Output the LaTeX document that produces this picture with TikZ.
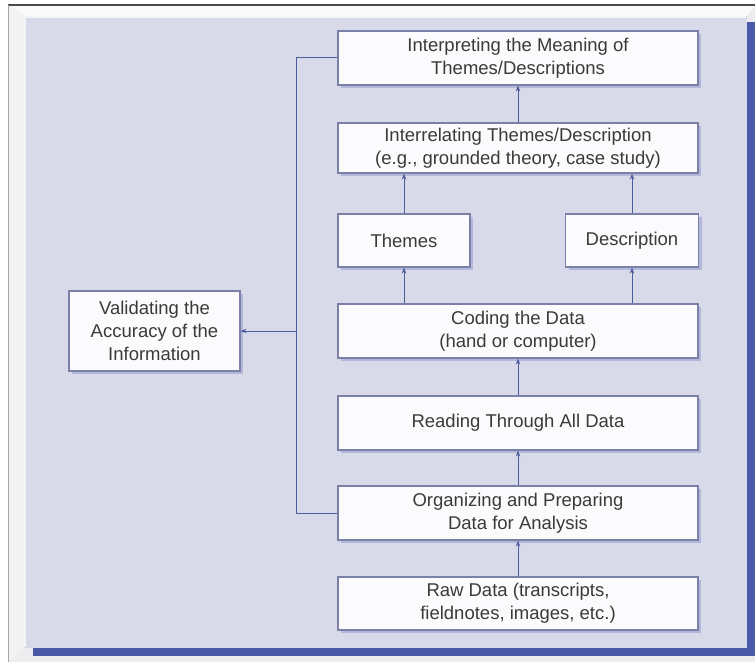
\documentclass[tikz,border=0pt]{standalone}
\usepackage{fontspec}
\setmainfont{Liberation Sans}
\usetikzlibrary{arrows.meta,shadows}
\definecolor{panel}{HTML}{D9DAE9}
\definecolor{framec}{HTML}{EDEDF0}
\definecolor{framedark}{HTML}{4A4A4A}
\definecolor{bluestrip}{HTML}{4B5AA8}
\definecolor{boxline}{HTML}{7A80A6}
\definecolor{boxfill}{HTML}{FBFBFE}
\definecolor{shadowc}{HTML}{B3B7DA}
\definecolor{linec}{HTML}{4D5C9C}
\definecolor{txt}{HTML}{3A3A3A}
\begin{document}
\begin{tikzpicture}[x=1bp,y=-1bp,
  box/.style={draw=boxline, line width=1.1bp, fill=boxfill, text=txt, align=center,
    font=\fontsize{18.5bp}{23bp}\selectfont, inner sep=0pt,
    drop shadow={shadow xshift=3bp, shadow yshift=-3bp, fill=shadowc, opacity=1}},
  conn/.style={draw=linec, line width=1bp},
  arr/.style={conn, -{Stealth[length=6bp,width=4.5bp]}}]
\useasboundingbox (0,0) rectangle (755,662);
\fill[white] (0,0) rectangle (755,662);
% outer frame
\fill[framec] (8,5) rectangle (755,662);
\fill[white!96!gray] (8,5) -- (755,5) -- (747,16) -- (24,16) -- cycle;
\fill[white!90!gray] (8,5) -- (24,16) -- (24,648) -- (8,662) -- cycle;
\draw[framedark, line width=1.6bp] (8,5) -- (755,5);
\draw[gray!70, line width=1bp] (8,5) -- (8,662);
% blue strips
\fill[bluestrip] (747,22) rectangle (755,656);
\fill[bluestrip] (33,648) rectangle (755,656);
% panel
\fill[panel] (24,16) rectangle (747,648);
\draw[white!70!panel, line width=1.5bp] (25,647) -- (25,17) -- (746,17);

% nodes
\node[box, minimum width=360bp, minimum height=54bp] (interp) at (518,58) {Interpreting the Meaning of\\Themes/Descriptions};
\node[box, minimum width=360bp, minimum height=50bp] (interrel) at (518,148) {Interrelating Themes/Description\\(e.g., grounded theory, case study)};
\node[box, minimum width=132bp, minimum height=53bp] (themes) at (404,240.5) {Themes};
\node[box, minimum width=133bp, minimum height=53bp] (desc) at (632,240.5) {Description};
\node[box, minimum width=360bp, minimum height=54bp] (coding) at (518,331) {Coding the Data\\(hand or computer)};
\node[box, minimum width=360bp, minimum height=54bp] (reading) at (518,423) {Reading Through All Data};
\node[box, minimum width=360bp, minimum height=54bp] (organ) at (518,513) {Organizing and Preparing\\Data for Analysis};
\node[box, minimum width=360bp, minimum height=53bp] (raw) at (518,603.5) {Raw Data (transcripts,\\fieldnotes, images, etc.)};
\node[box, minimum width=171bp, minimum height=80bp] (valid) at (154.5,331) {Validating the\\Accuracy of the\\Information};

% connectors
\draw[arr] (raw) -- (organ);
\draw[arr] (organ) -- (reading);
\draw[arr] (reading) -- (coding);
\draw[arr] (coding.north -| themes) -- (themes);
\draw[arr] (coding.north -| desc) -- (desc);
\draw[arr] (themes) -- (interrel.south -| themes);
\draw[arr] (desc) -- (interrel.south -| desc);
\draw[arr] (interrel) -- (interp);
\coordinate (jtop) at (296,58);
\coordinate (jbot) at (296,513);
\coordinate (jmid) at (296,331);
\draw[conn] (organ.west) -- (jbot) -- (jtop) -- (interp.west);
\draw[arr] (jmid) -- (valid.east);
\end{tikzpicture}
\end{document}
